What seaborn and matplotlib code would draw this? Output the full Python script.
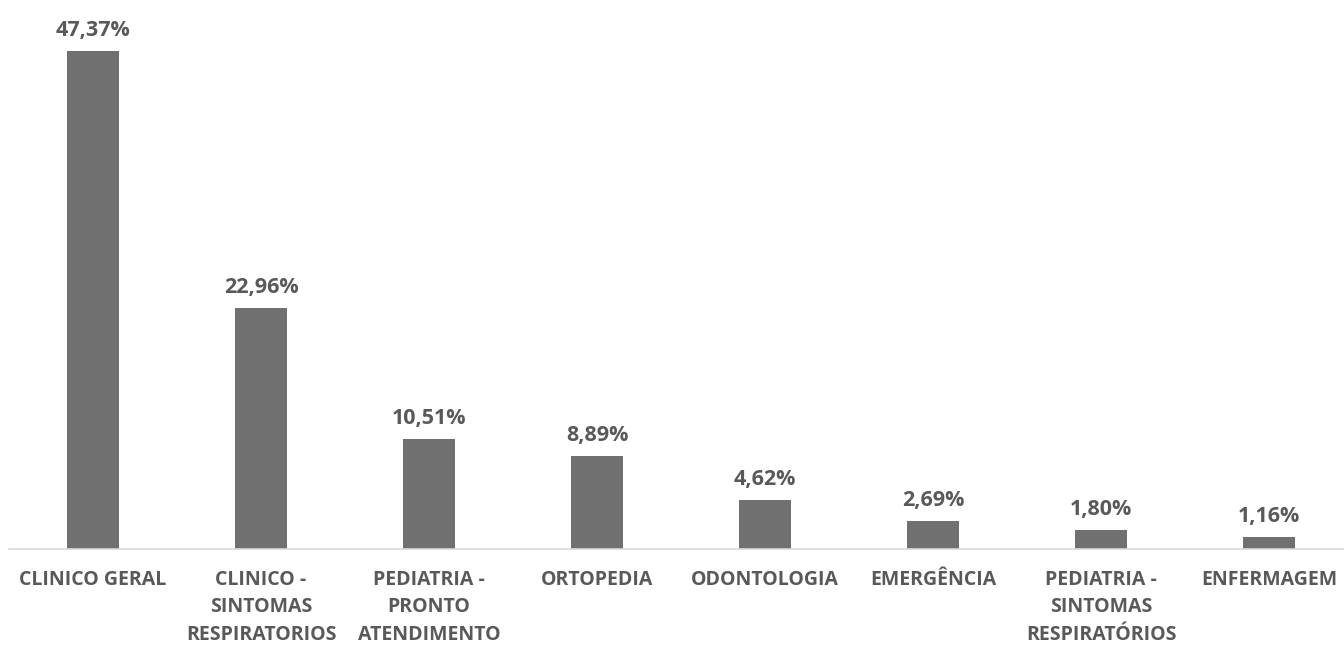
import matplotlib
matplotlib.use("Agg")
import matplotlib.pyplot as plt
import seaborn as sns
import pandas as pd

categorias = [
    "CLINICO GERAL",
    "CLINICO -\nSINTOMAS\nRESPIRATORIOS",
    "PEDIATRIA -\nPRONTO\nATENDIMENTO",
    "ORTOPEDIA",
    "ODONTOLOGIA",
    "EMERGÊNCIA",
    "PEDIATRIA -\nSINTOMAS\nRESPIRATÓRIOS",
    "ENFERMAGEM",
]
percentuais = [47.37, 22.96, 10.51, 8.89, 4.62, 2.69, 1.80, 1.16]

df = pd.DataFrame({"categoria": categorias, "percentual": percentuais})

sns.set_theme(style="white")
plt.rcParams["font.family"] = ["Open Sans", "DejaVu Sans"]

texto = "#595959"
barra = "#707070"

fig = plt.figure(figsize=(13.44, 6.49), dpi=100)
ax = fig.add_axes([9 / 1344, 100 / 649, 1.0, 525.5 / 649])

sns.barplot(data=df, x="categoria", y="percentual", color=barra,
            width=0.31, saturation=1, linewidth=0, ax=ax)

ax.set_xlim(-0.5, len(categorias) - 0.5)
ax.set_ylim(0, 50)
ax.set_xlabel("")
ax.set_ylabel("")
ax.set_yticks([])

for s in ["top", "right", "left"]:
    ax.spines[s].set_visible(False)
ax.spines["bottom"].set_color("#d9d9d9")
ax.spines["bottom"].set_linewidth(1.2)

ax.tick_params(axis="x", length=0, pad=15)
for lbl in ax.get_xticklabels():
    lbl.set_fontsize(14)
    lbl.set_fontweight("bold")
    lbl.set_color(texto)
    lbl.set_linespacing(1.5)
    lbl.set_va("top")

for i, v in enumerate(percentuais):
    ax.annotate(f"{v:.2f}%".replace(".", ","), xy=(i, v),
                xytext=(0, 10), textcoords="offset pixels",
                ha="center", va="bottom", fontsize=15.5,
                fontweight="bold", color=texto)

fig.savefig("out.png", dpi=100)
